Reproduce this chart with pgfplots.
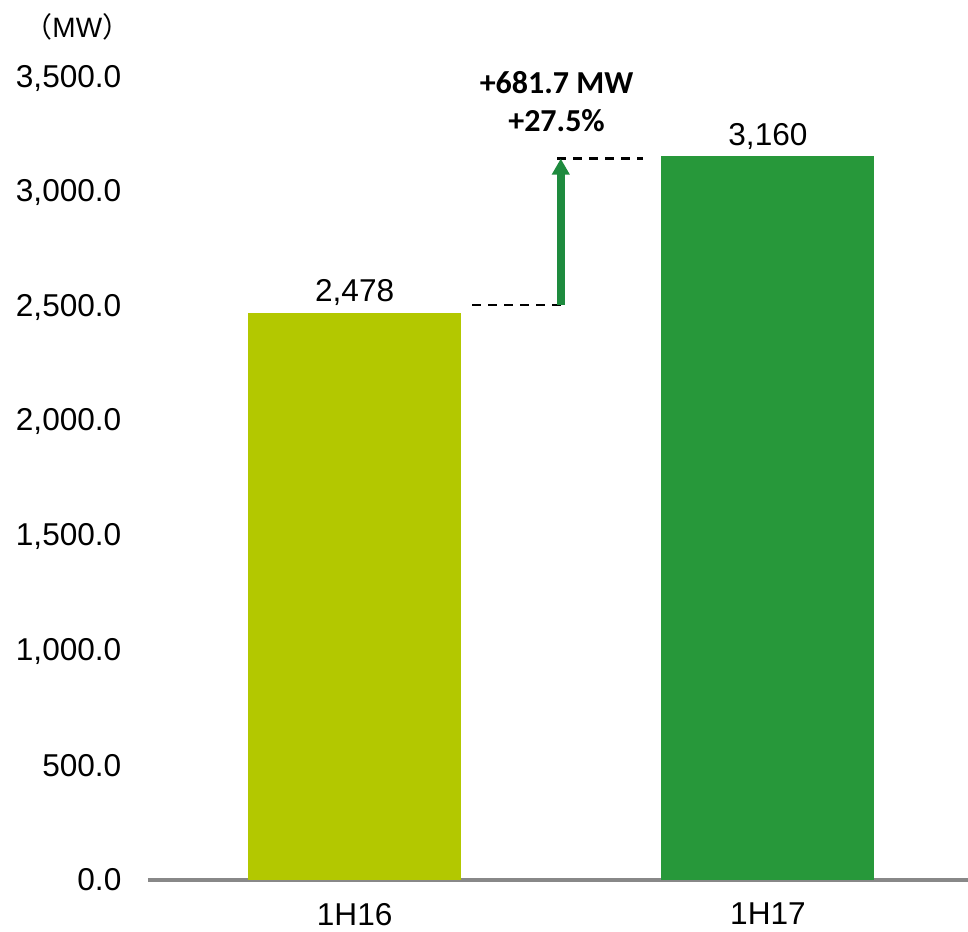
\documentclass[border=0pt]{standalone}
\usepackage{fontspec}
\setmainfont{Liberation Sans}
\newfontfamily\cjk{Noto Sans CJK JP}
\newfontfamily\calibri{Carlito}
\usepackage{pgfplots}
\pgfplotsset{compat=1.18}
\usetikzlibrary{arrows.meta}
\definecolor{barA}{HTML}{B3C800}
\definecolor{barB}{HTML}{27983A}
\definecolor{arrowG}{HTML}{1E8B3E}
\definecolor{axisgray}{HTML}{888888}
\begin{document}
\begin{tikzpicture}
\useasboundingbox (-74pt,-25.5pt) rectangle (410pt,440pt);
\begin{axis}[
  at={(0,0)}, anchor=south west,
  width=410pt, height=420pt, scale only axis,
  xmin=-0.5, xmax=1.484, ymin=0, ymax=3668,
  clip=false,
  axis x line=bottom, axis y line=left,
  y axis line style={draw=none},
  x axis line style={-, draw=axisgray, line width=1.6pt},
  major tick length=0pt,
  xtick={0,1}, xticklabels={1H16,1H17},
  ytick={0,500,1000,1500,2000,2500,3000,3500},
  /pgf/number format/assume math mode=true,
  yticklabel style={font=\fontsize{15.8}{19}\selectfont, xshift=-9.8pt,
    /pgf/number format/fixed, /pgf/number format/fixed zerofill,
    /pgf/number format/precision=1, /pgf/number format/1000 sep={,}},
  xticklabel style={font=\fontsize{15.8}{19}\selectfont, yshift=-8pt},
  ybar, bar width=106.5pt, bar shift=0pt,
  nodes near coords={\pgfmathprintnumber[fixed, precision=0, 1000 sep={,}, assume math mode=true]{\pgfplotspointmeta}},
  every node near coord/.append style={font=\fontsize{15.8}{19}\selectfont, text=black},
]
\addplot[fill=barA, draw=none] coordinates {(0,2478)};
\addplot[fill=barB, draw=none] coordinates {(1,3160)};
% dashed guides
\addplot[sharp plot, no markers, nodes near coords={}, black, line width=1.3pt, dash pattern=on 4.5pt off 3.5pt] coordinates {(0.284,2510) (0.511,2510)};
\addplot[sharp plot, no markers, nodes near coords={}, black, line width=1.3pt, dash pattern=on 4.5pt off 3.5pt] coordinates {(0.490,3150) (0.698,3150)};
% arrow
\addplot[sharp plot, no markers, nodes near coords={}, arrowG, line width=4pt, -{Triangle[length=8pt, width=8.5pt]}] coordinates {(0.4987,2510) (0.4987,3150)};
\node[font=\calibri\bfseries\fontsize{16}{19}\selectfont] at (axis cs:0.4885,3480) {+681.7 MW};
\node[font=\calibri\bfseries\fontsize{16}{19}\selectfont] at (axis cs:0.4885,3314) {+27.5\%};
\node[font=\fontsize{14}{16}\selectfont] at (axis cs:-0.671,3725) {{\cjk （}MW{\cjk ）}};
\end{axis}
\end{tikzpicture}
\end{document}
